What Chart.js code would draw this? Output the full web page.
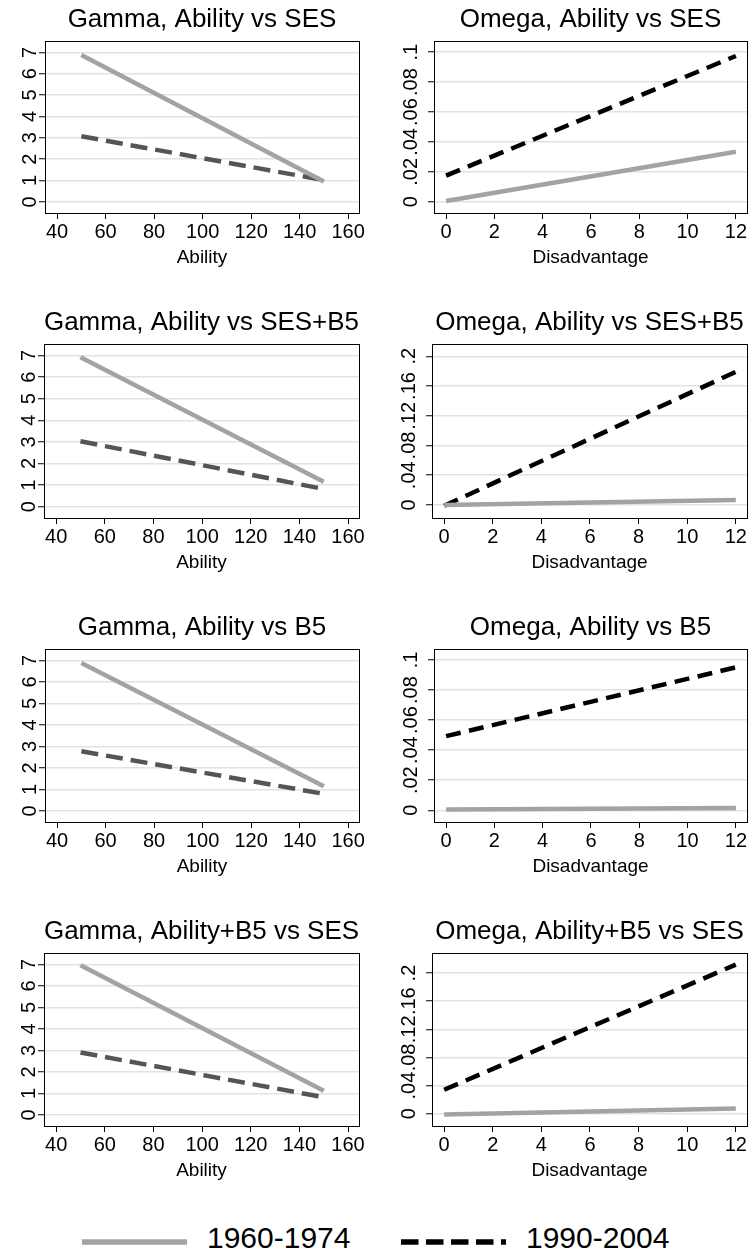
<!DOCTYPE html>
<html>
<head>
<meta charset="utf-8">
<title>Gamma and Omega by period</title>
<script src="https://cdn.jsdelivr.net/npm/chart.js@4.4.1/dist/chart.umd.min.js"></script>
<style>
  html, body { margin: 0; padding: 0; background: #fff; }
  body { position: relative; width: 749px; height: 1257px; overflow: hidden;
         font-family: 'Liberation Sans', Arial, sans-serif; }
  canvas { position: absolute; }
  .key-label { position: absolute; top: 1223px; font-size: 30px; line-height: 30px; color: #000; }
  #key-lines { position: absolute; left: 0; top: 1222px; }
</style>
</head>
<body>
<svg id="key-lines" width="749" height="40">
  <line x1="82" y1="20" x2="187" y2="20" stroke="#a3a3a3" stroke-width="5.5"/>
  <line x1="401" y1="20" x2="506" y2="20" stroke="#000" stroke-width="5.5" stroke-dasharray="17.5 7.5"/>
</svg>
<span class="key-label" id="key-old" style="left:207px"></span>
<span class="key-label" id="key-new" style="left:526px"></span>

<script>
const periods = ['1960-1974', '1990-2004'];

const abilityX = [50, 150];
const disadvX = [0, 12];

const abilityTicks = [40, 60, 80, 100, 120, 140, 160];
const gammaTicks = [0, 1, 2, 3, 4, 5, 6, 7];
const disadvTicks = [0, 2, 4, 6, 8, 10, 12];
const omegaTicksSmall = [0, 0.02, 0.04, 0.06, 0.08, 0.1];
const omegaTicksLarge = [0, 0.04, 0.08, 0.12, 0.16, 0.2];

// gamma: value at ability 50 and at ability 150
const gammaSES60 = [6.88, 0.95];
const gammaSES90 = [3.07, 1.02];
const gammaSESB5_60 = [6.92, 1.16];
const gammaSESB5_90 = [3.03, 0.82];
const gammaB5_60 = [6.88, 1.14];
const gammaB5_90 = [2.77, 0.79];
const gammaAbB5_60 = [6.96, 1.12];
const gammaAbB5_90 = [2.9, 0.82];

// omega: value at disadvantage 0 and at 12
const omegaSES60 = [0.0005, 0.0335];
const omegaSES90 = [0.0175, 0.0975];
const omegaSESB5_60 = [0.0, 0.0067];
const omegaSESB5_90 = [-0.001, 0.179];
const omegaB5_60 = [0.0005, 0.0015];
const omegaB5_90 = [0.0493, 0.0951];
const omegaAbB5_60 = [-0.001, 0.0075];
const omegaAbB5_90 = [0.034, 0.212];

document.getElementById('key-old').textContent = periods[0];
document.getElementById('key-new').textContent = periods[1];

Chart.defaults.font.family = "'Liberation Sans', Arial, sans-serif";
Chart.defaults.color = '#000';

const GREY = '#a3a3a3';

// plot box edges for each row / column
const rowBox = [[41, 213], [344, 518], [649, 822], [953, 1126]];
const colBox = [[[45, 359], [44, 359], [45, 359], [44, 359]],
                [[434, 747], [432, 747], [434, 747], [432, 747]]];

const gammaAxis = { xs: abilityX, xTicks: abilityTicks, xMin: 35, xMax: 164.5,
                    yTicks: gammaTicks, yMin: -0.52, yMax: 7.53, xTitle: 'Ability',
                    dashColor: '#555555', dash: [17, 8] };
const omegaAxis = { xs: disadvX, xTicks: disadvTicks, xMin: -0.5, xMax: 12.46,
                    xTitle: 'Disadvantage', dashColor: '#000000', dash: [15, 8.5] };

const panels = [
  { ...gammaAxis, row: 0, col: 0, title: 'Gamma, Ability vs SES', old: gammaSES60, recent: gammaSES90 },
  { ...omegaAxis, row: 0, col: 1, title: 'Omega, Ability vs SES', old: omegaSES60, recent: omegaSES90,
    yTicks: omegaTicksSmall, yMin: -0.0075, yMax: 0.1075 },
  { ...gammaAxis, row: 1, col: 0, title: 'Gamma, Ability vs SES+B5', old: gammaSESB5_60, recent: gammaSESB5_90 },
  { ...omegaAxis, row: 1, col: 1, title: 'Omega, Ability vs SES+B5', old: omegaSESB5_60, recent: omegaSESB5_90,
    yTicks: omegaTicksLarge, yMin: -0.0175, yMax: 0.2165 },
  { ...gammaAxis, row: 2, col: 0, title: 'Gamma, Ability vs B5', old: gammaB5_60, recent: gammaB5_90 },
  { ...omegaAxis, row: 2, col: 1, title: 'Omega, Ability vs B5', old: omegaB5_60, recent: omegaB5_90,
    yTicks: omegaTicksSmall, yMin: -0.0078, yMax: 0.1073 },
  { ...gammaAxis, row: 3, col: 0, title: 'Gamma, Ability+B5 vs SES', old: gammaAbB5_60, recent: gammaAbB5_90 },
  { ...omegaAxis, row: 3, col: 1, title: 'Omega, Ability+B5 vs SES', old: omegaAbB5_60, recent: omegaAbB5_90,
    yTicks: omegaTicksLarge, yMin: -0.0175, yMax: 0.2285 }
];

// stata-style numbers: .02 instead of 0.02
const fmt = v => (v === 0 ? '0' : String(+v.toFixed(3)).replace(/^0\./, '.'));

// closed box around the plot region
const frame = {
  id: 'frame',
  afterDatasetsDraw(chart) {
    const { ctx, chartArea: a } = chart;
    const l = Math.round(a.left - 0.5) + 0.5, r = Math.round(a.right - 0.5) + 0.5;
    const t = Math.round(a.top - 0.5) + 0.5, b = Math.round(a.bottom - 0.5) + 0.5;
    ctx.save();
    ctx.strokeStyle = '#000';
    ctx.lineWidth = 1;
    ctx.strokeRect(l, t, r - l, b - t);
    ctx.restore();
  }
};

function makePanel(p) {
  const [boxTop, boxBottom] = rowBox[p.row];
  const [boxLeft, boxRight] = colBox[p.col][p.row];
  const left = p.col === 0 ? 0 : 375;
  const W = p.col === 0 ? 375 : 400;
  const H = 41 + (boxBottom - boxTop) + 62;

  const canvas = document.createElement('canvas');
  canvas.width = W;
  canvas.height = H;
  canvas.style.left = left + 'px';
  canvas.style.top = (boxTop - 41) + 'px';
  document.body.appendChild(canvas);

  new Chart(canvas, {
    type: 'line',
    data: {
      datasets: [
        { label: periods[0], data: p.xs.map((x, i) => ({ x, y: p.old[i] })),
          borderColor: GREY, borderWidth: 4.5 },
        { label: periods[1], data: p.xs.map((x, i) => ({ x, y: p.recent[i] })),
          borderColor: p.dashColor, borderWidth: 4.5, borderDash: p.dash }
      ]
    },
    options: {
      responsive: false,
      animation: false,
      layout: { padding: { left: 0, top: 0, bottom: 0, right: left + W - boxRight } },
      elements: { point: { radius: 0 }, line: { tension: 0, borderCapStyle: 'butt' } },
      plugins: {
        legend: { display: false },
        tooltip: { enabled: false },
        // not full width: centred over the plot box
        title: { display: true, fullSize: false, text: p.title, font: { size: 26, weight: 'normal' },
                 padding: { top: 4.4, bottom: 5.4 } }
      },
      scales: {
        x: {
          type: 'linear', min: p.xMin, max: p.xMax,
          afterBuildTicks: s => { s.ticks = p.xTicks.map(v => ({ value: v })); },
          afterFit: s => { s.height = 62; },
          ticks: { autoSkip: false, maxRotation: 0, padding: 1, font: { size: 20 }, callback: fmt },
          grid: { drawOnChartArea: false, tickLength: 6, tickColor: '#000', tickWidth: 1 },
          border: { color: '#000', width: 1 },
          title: { display: true, text: p.xTitle, font: { size: 19 }, padding: { top: 0, bottom: 5.6 } }
        },
        y: {
          type: 'linear', min: p.yMin, max: p.yMax,
          afterBuildTicks: s => { s.ticks = p.yTicks.map(v => ({ value: v })); },
          afterFit: s => { s.width = boxLeft - left; },
          ticks: { autoSkip: false, minRotation: 90, maxRotation: 90, crossAlign: 'center',
                   padding: 3, font: { size: 20 }, callback: fmt },
          grid: { color: '#e2e2e2', lineWidth: 1.5, tickLength: 6, tickColor: '#000', tickWidth: 1 },
          border: { color: '#000', width: 1 }
        }
      }
    },
    plugins: [frame]
  });
}

panels.forEach(makePanel);
</script>
</body>
</html>
